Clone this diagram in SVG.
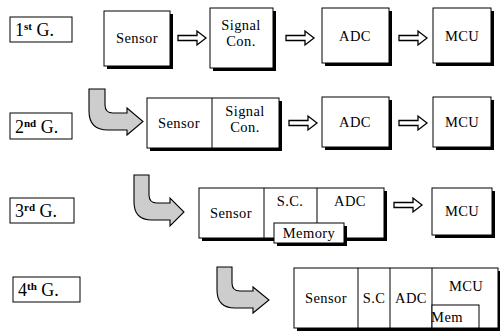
<svg xmlns="http://www.w3.org/2000/svg" width="502" height="335" viewBox="0 0 502 335">
<defs>
<style>
.b{fill:#fff;stroke:#000;stroke-width:1}
.sh{fill:#000}
.ln{stroke:#000;stroke-width:1}
.ar{fill:#fff;stroke:#000;stroke-width:1.3}
.cu{fill:#cdcdcd;stroke:#000;stroke-width:1.1}
.t{font-family:'Liberation Serif','DejaVu Serif','Noto Serif',serif;font-size:14.5px;letter-spacing:0.4px;text-anchor:middle;fill:#000}
.g{font-family:'Liberation Serif','DejaVu Serif','Noto Serif',serif;font-size:18px;fill:#000}
.sup{font-size:11px;font-weight:bold}
</style>
</defs>
<rect width="502" height="335" fill="#fff"/>

<g id="gen1">
<rect class="b" x="10" y="17" width="62" height="25"/>
<text class="g" x="15" y="36">1<tspan class="sup" dy="-6">st</tspan><tspan dy="6"> G.</tspan></text>
</g>
<g id="sensor1">
<rect class="sh" x="107" y="14" width="66" height="55"/>
<rect class="b" x="104" y="11" width="66" height="55"/>
<text class="t" x="137" y="43">Sensor</text>
</g>
<g id="signal1">
<rect class="sh" x="213" y="11" width="63" height="60"/>
<rect class="b" x="210" y="8" width="63" height="60"/>
<text class="t" x="241" y="30">Signal</text>
<text class="t" x="241" y="46">Con.</text>
</g>
<g id="adc1">
<rect class="sh" x="325" y="11" width="67" height="55"/>
<rect class="b" x="322" y="8" width="67" height="55"/>
<text class="t" x="355" y="41">ADC</text>
</g>
<g id="mcu1">
<rect class="sh" x="436" y="11" width="58" height="55"/>
<rect class="b" x="433" y="8" width="58" height="55"/>
<text class="t" x="462" y="41">MCU</text>
</g>

<g id="gen2">
<rect class="b" x="10" y="113" width="62" height="26"/>
<text class="g" x="15" y="133">2<tspan class="sup" dy="-6">nd</tspan><tspan dy="6"> G.</tspan></text>
</g>
<g id="sensor-signal2">
<rect class="sh" x="150" y="101" width="132" height="50"/>
<rect class="b" x="147" y="98" width="132" height="50"/>
<line class="ln" x1="212" y1="98" x2="212" y2="148"/>
<text class="t" x="179" y="128">Sensor</text>
<text class="t" x="245" y="116">Signal</text>
<text class="t" x="245" y="132">Con.</text>
</g>
<g id="adc2">
<rect class="sh" x="325" y="100" width="67" height="50"/>
<rect class="b" x="322" y="97" width="67" height="50"/>
<text class="t" x="355" y="127">ADC</text>
</g>
<g id="mcu2">
<rect class="sh" x="436" y="100" width="58" height="50"/>
<rect class="b" x="433" y="97" width="58" height="50"/>
<text class="t" x="462" y="127">MCU</text>
</g>

<g id="gen3">
<rect class="b" x="10" y="198" width="64" height="25"/>
<text class="g" x="15" y="217">3<tspan class="sup" dy="-6">rd</tspan><tspan dy="6"> G.</tspan></text>
</g>
<g id="sensor-sc-adc3">
<rect class="sh" x="202" y="191" width="185" height="50"/>
<rect class="b" x="199" y="188" width="185" height="50"/>
<line class="ln" x1="264" y1="188" x2="264" y2="238"/>
<line class="ln" x1="317" y1="188" x2="317" y2="223"/>
<text class="t" x="231" y="218">Sensor</text>
<text class="t" x="290" y="206">S.C.</text>
<text class="t" x="350" y="206">ADC</text>
</g>
<g id="memory3">
<rect class="sh" x="277" y="226" width="70" height="20"/>
<rect class="b" x="274" y="223" width="70" height="20"/>
<text class="t" x="309" y="238">Memory</text>
</g>
<g id="mcu3">
<rect class="sh" x="435" y="191" width="60" height="47"/>
<rect class="b" x="432" y="188" width="60" height="47"/>
<text class="t" x="462" y="216">MCU</text>
</g>

<g id="gen4">
<rect class="b" x="13" y="277" width="67" height="25"/>
<text class="g" x="18" y="296">4<tspan class="sup" dy="-6">th</tspan><tspan dy="6"> G.</tspan></text>
</g>
<g id="integrated4">
<rect class="sh" x="297" y="271" width="203" height="60"/>
<rect class="b" x="294" y="268" width="204" height="60"/>
<line class="ln" x1="358" y1="268" x2="358" y2="328"/>
<line class="ln" x1="390" y1="268" x2="390" y2="328"/>
<line class="ln" x1="432" y1="268" x2="432" y2="328"/>
<rect class="b" x="432" y="305" width="47" height="23"/>
<text class="t" x="326" y="303">Sensor</text>
<text class="t" x="374" y="303">S.C</text>
<text class="t" x="411" y="303">ADC</text>
<text class="t" x="466" y="291">MCU</text>
<text class="t" x="447" y="322">Mem</text>
</g>

<g id="connectors">
<path class="ar" d="M178,35.5H197V31L206,38L197,45V40.5H178Z"/>
<path class="ar" d="M286,35.5H305V31L314,38L305,45V40.5H286Z"/>
<path class="ar" d="M399,35.5H418V31L427,38L418,45V40.5H399Z"/>
<path class="ar" d="M289,120.5H308V116L317,123L308,130V125.5H289Z"/>
<path class="ar" d="M399,120.5H418V116L427,123L418,130V125.5H399Z"/>
<path class="ar" d="M394,202.5H413V198L422,205L413,212V207.5H394Z"/>
<path class="cu" d="M89,89H105V105Q105,113 113,113H127V108L143,121.5L127,135V130H108Q89,130 89,111Z"/>
<path class="cu" d="M134,175H149V195Q149,203 157,203H170V198L184,212L170,226V220H152Q134,220 134,202Z"/>
<path class="cu" d="M217,267H232V283Q232,291 240,291H253V287L269,300L253,313V308H235Q217,308 217,290Z"/>
</g>
</svg>
